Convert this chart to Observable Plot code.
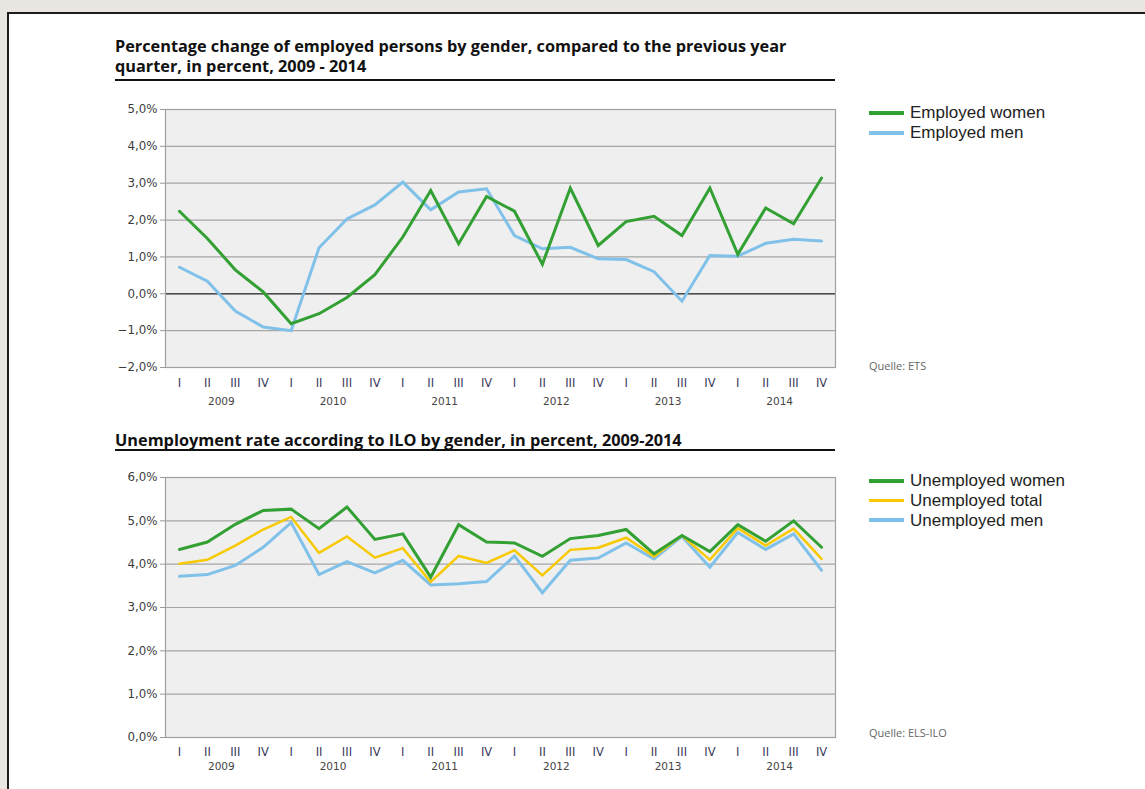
<!DOCTYPE html>
<html>
<head>
<meta charset="utf-8">
<script src="https://cdn.jsdelivr.net/npm/d3@7"></script>
<script src="https://cdn.jsdelivr.net/npm/@observablehq/plot@0.6"></script>
<style>
  html, body { margin: 0; padding: 0; }
  body { width: 1145px; height: 789px; overflow: hidden; background: #e9e6e2; position: relative; font-family: "Open Sans", "Noto Sans", sans-serif; }
  #panel { position: absolute; left: 7px; top: 12px; width: 1160px; height: 820px; border: 2px solid #1c1c1c; background: #fff; }
  .title { position: absolute; left: 115px; font-weight: 700; font-size: 16.3px; line-height: 20px; color: #111; white-space: nowrap; }
  .rule { position: absolute; left: 115px; width: 720px; height: 2px; background: #111; }
  .chart { position: absolute; left: 0; }
  .legend { position: absolute; left: 869px; font-family: "Liberation Sans", Arial, sans-serif; font-size: 17px; color: #222; }
  .legend .item { display: flex; align-items: center; height: 19.7px; }
  .legend .sw { width: 35px; height: 4px; margin-right: 6px; flex: none; }
  .legend .lbl { white-space: nowrap; line-height: 19px; }
  .source { position: absolute; left: 869px; font-size: 11px; line-height: 14px; color: #666; }
</style>
</head>
<body>
<div id="panel"></div>
<div class="title" style="top:36px">Percentage change of employed persons by gender, compared to the previous year<br>quarter, in percent, 2009 - 2014</div>
<div class="rule" style="top:79px"></div>
<div class="title" style="top:430px">Unemployment rate according to ILO by gender, in percent, 2009-2014</div>
<div class="rule" style="top:449px"></div>
<div id="c1" class="chart" style="top:90px"></div>
<div id="c2" class="chart" style="top:460px"></div>
<div id="l1" class="legend" style="top:103px"></div>
<div id="l2" class="legend" style="top:471px"></div>
<div class="source" style="top:359px">Quelle: ETS</div>
<div class="source" style="top:726px">Quelle: ELS-ILO</div>
<script>
const years = [2009, 2010, 2011, 2012, 2013, 2014];
const quarters = ["I", "II", "III", "IV"];

// Chart 1: percentage change of employed persons vs previous-year quarter
const employedWomen = [2.24, 1.5, 0.65, 0.05, -0.81, -0.54, -0.1, 0.52, 1.54, 2.8, 1.36, 2.64,
                       2.24, 0.8, 2.87, 1.31, 1.96, 2.1, 1.58, 2.87, 1.07, 2.33, 1.9, 3.14];
const employedMen   = [0.72, 0.34, -0.47, -0.9, -1.0, 1.25, 2.03, 2.41, 3.03, 2.28, 2.76, 2.85,
                       1.58, 1.22, 1.26, 0.95, 0.93, 0.6, -0.2, 1.04, 1.02, 1.37, 1.48, 1.43];
const yTicks1 = [-2, -1, 0, 1, 2, 3, 4, 5];

// Chart 2: unemployment rate (ILO) by gender
const unemployedWomen = [4.34, 4.51, 4.92, 5.24, 5.27, 4.82, 5.32, 4.57, 4.70, 3.70, 4.91, 4.51,
                         4.49, 4.18, 4.59, 4.66, 4.80, 4.24, 4.66, 4.29, 4.91, 4.53, 5.0, 4.39];
const unemployedTotal = [4.01, 4.10, 4.43, 4.80, 5.09, 4.26, 4.64, 4.15, 4.37, 3.59, 4.19, 4.03,
                         4.32, 3.74, 4.33, 4.38, 4.61, 4.18, 4.66, 4.10, 4.83, 4.43, 4.82, 4.12];
const unemployedMen   = [3.72, 3.76, 3.97, 4.39, 4.96, 3.76, 4.06, 3.80, 4.09, 3.52, 3.55, 3.60,
                         4.19, 3.34, 4.09, 4.14, 4.49, 4.12, 4.64, 3.93, 4.73, 4.34, 4.70, 3.86];
const yTicks2 = [0, 1, 2, 3, 4, 5, 6];

const GREEN = "#33a033", BLUE = "#80c1ea", YELLOW = "#f7c900";
const series1 = [
  {name: "Employed women", values: employedWomen, color: GREEN, width: 3},
  {name: "Employed men", values: employedMen, color: BLUE, width: 3}
];
const series2 = [
  {name: "Unemployed women", values: unemployedWomen, color: GREEN, width: 3},
  {name: "Unemployed total", values: unemployedTotal, color: YELLOW, width: 2.5},
  {name: "Unemployed men", values: unemployedMen, color: BLUE, width: 3}
];

const idx = d3.range(years.length * quarters.length);
const fmt = d => (d < 0 ? "\u2212" : "") + Math.abs(d).toFixed(1).replace(".", ",") + "%";
const AXISFONT = "'DejaVu Sans', sans-serif";

function chart(series, yTicks, drawOrder, opts) {
  const yMin = yTicks[0], yMax = yTicks[yTicks.length - 1];
  const marks = [
    Plot.frame({fill: "#efefef"}),
    Plot.ruleY(yTicks, {stroke: "#a6a6a6", strokeWidth: 1.2}),
  ];
  if (opts.zero) marks.push(Plot.ruleY([0], {stroke: "#4d4d4d", strokeWidth: 1.6}));
  marks.push(
    Plot.frame({stroke: "#a0a0a0", strokeWidth: 1.2}),
    Plot.axisY(yTicks, {tickFormat: () => "", tickSize: 5, stroke: "#999"}),
    Plot.text(yTicks, {y: d => d, frameAnchor: "left", textAnchor: "end", dx: -8, text: fmt, fill: "#3c3c3c", fontSize: 11.8, fontFamily: AXISFONT}),
    Plot.text(idx, {x: d => d, y: yMin, dy: opts.qdy, text: d => quarters[d % 4], fill: "#3a3a5a", fontSize: 11.5, fontFamily: AXISFONT}),
    Plot.text(years, {x: (d, i) => 4 * i + 1.5, y: yMin, dy: opts.ydy, text: d => String(d), fill: "#444", fontSize: 10.5, fontFamily: AXISFONT})
  );
  for (const k of drawOrder) {
    const s = series[k];
    marks.push(Plot.line(idx, {x: d => d, y: d => s.values[d], stroke: s.color, strokeWidth: s.width, strokeLinejoin: "miter", strokeMiterlimit: 3}));
  }
  return Plot.plot({
    width: 1145, height: opts.height,
    marginLeft: 165, marginRight: 310, marginTop: opts.mt, marginBottom: opts.mb,
    style: {fontFamily: "'Open Sans', sans-serif", background: "transparent", overflow: "visible"},
    x: {domain: [-0.5, 23.5], axis: null},
    y: {domain: [yMin, yMax], axis: null},
    marks
  });
}

document.getElementById("c1").append(chart(series1, yTicks1, [1, 0], {height: 330, mt: 19, mb: 53, qdy: 16, ydy: 34, zero: true}));
document.getElementById("c2").append(chart(series2, yTicks2, [2, 1, 0], {height: 329, mt: 17, mb: 52, qdy: 15, ydy: 29, zero: false}));

function legend(el, series) {
  for (const s of series) {
    const item = document.createElement("div");
    item.className = "item";
    const sw = document.createElement("span");
    sw.className = "sw";
    sw.style.background = s.color;
    sw.style.height = (s.width >= 3 ? 4 : 3) + "px";
    const t = document.createElement("span");
    t.className = "lbl";
    t.textContent = s.name;
    item.append(sw, t);
    el.append(item);
  }
}
legend(document.getElementById("l1"), series1);
legend(document.getElementById("l2"), series2);
</script>
</body>
</html>
